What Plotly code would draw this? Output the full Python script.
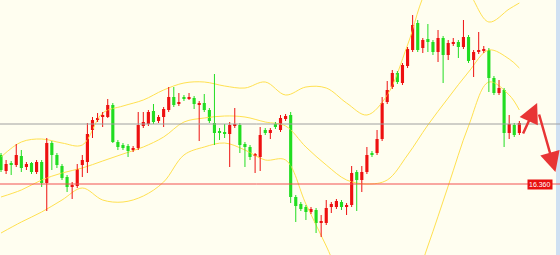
import plotly.graph_objects as go

# OHLC (price units)
opens = [16.65,16.49,16.57,16.55,16.64,16.53,16.57,16.48,16.58,16.37,
         16.77,16.65,16.54,16.43,16.33,16.34,16.55,16.58,16.90,17.00,
         17.03,17.03,17.15,16.78,16.75,16.74,16.70,16.72,16.94,16.96,
         17.09,16.99,17.03,17.10,17.23,17.16,17.22,17.21,17.22,17.15,
         17.17,17.10,16.97,16.88,16.87,16.86,16.94,16.95,16.76,16.73,
         16.64,16.63,16.90,16.87,16.96,16.90,17.01,17.05,16.23,16.16,
         16.13,16.08,16.10,15.97,15.97,16.13,16.13,16.18,16.13,16.15,
         16.48,16.40,16.48,16.67,16.67,16.81,17.18,17.33,17.47,17.37,
         17.54,17.70,17.97,17.72,17.81,17.78,17.68,17.82,17.65,17.76,
         17.78,17.73,17.83,17.60,17.68,17.69,17.70,17.42,17.27,17.30,
         16.87,16.95,16.87]
highs = [16.67,16.60,16.59,16.76,16.70,16.58,16.58,16.60,16.60,16.82,
         16.79,16.67,16.56,16.45,16.38,16.56,16.65,16.97,17.03,17.07,
         17.08,17.21,17.17,16.80,16.77,16.76,16.74,17.08,17.08,17.10,
         17.16,17.05,17.13,17.33,17.33,17.27,17.25,17.27,17.24,17.19,
         17.26,17.12,17.46,16.92,16.96,16.98,17.12,16.97,16.78,16.75,
         16.67,16.93,16.92,16.92,16.98,17.05,17.06,17.08,16.25,16.18,
         16.15,16.13,16.12,16.05,16.20,16.18,16.21,16.20,16.17,16.54,
         16.50,16.54,16.73,16.69,16.90,17.23,17.39,17.50,17.49,17.57,
         17.73,18.05,18.00,17.82,17.96,17.80,17.90,17.84,17.80,17.82,
         17.80,18.00,17.85,17.70,17.88,17.74,17.72,17.44,17.40,17.32,
         17.05,16.97,16.99]
lows = [16.48,16.46,16.45,16.53,16.48,16.50,16.46,16.46,16.33,16.09,
        16.50,16.52,16.40,16.28,16.21,16.32,16.43,16.47,16.82,16.98,
        16.93,17.02,16.77,16.70,16.70,16.63,16.68,16.70,16.92,16.94,
        16.96,16.97,16.93,17.08,17.13,17.14,17.19,17.20,17.11,16.79,
        17.08,16.97,16.75,16.80,16.82,16.53,16.92,16.67,16.53,16.60,
        16.47,16.49,16.85,16.81,16.91,16.88,16.99,16.17,15.98,16.09,
        16.00,16.06,15.87,15.83,15.95,16.07,16.11,16.10,16.05,16.13,
        16.09,16.28,16.46,16.63,16.65,16.79,17.16,17.31,17.36,17.35,
        17.52,17.68,17.68,17.67,17.68,17.65,17.58,17.37,17.60,17.74,
        17.62,17.71,17.57,17.43,17.66,17.67,17.28,17.25,17.25,16.73,
        16.81,16.83,16.85]
closes = [16.50,16.56,16.55,16.65,16.52,16.56,16.48,16.58,16.37,16.77,
          16.65,16.55,16.42,16.33,16.35,16.51,16.60,16.86,17.00,17.02,
          17.05,17.15,16.78,16.73,16.72,16.69,16.72,16.95,16.98,17.08,
          16.98,17.03,17.11,17.23,17.15,17.18,17.21,17.23,17.16,17.17,
          17.10,16.99,16.87,16.87,16.86,16.95,16.96,16.75,16.73,16.63,
          16.65,16.85,16.87,16.90,16.93,17.02,17.04,16.23,16.14,16.11,
          16.08,16.11,15.97,15.98,16.12,16.16,16.19,16.13,16.15,16.47,
          16.40,16.48,16.65,16.65,16.81,17.17,17.30,17.47,17.38,17.55,
          17.71,17.95,17.70,17.80,17.78,17.68,17.82,17.65,17.77,17.77,
          17.73,17.83,17.59,17.68,17.70,17.71,17.42,17.27,17.32,16.87,
          16.96,16.85,16.97]

band_idx = [0,4,8,12,16,20,24,28,32,36,40,44,48,52,56,60,64,68,72,76,80,84,88,92,96,100,102]
upper = [16.63,16.78,16.81,16.77,16.75,17.07,17.14,17.20,17.30,17.37,17.38,17.34,17.32,17.38,
         17.25,17.33,17.32,17.17,17.05,17.25,17.75,18.32,18.50,18.28,17.98,18.11,18.17]
middle = [16.23,16.30,16.40,16.47,16.52,16.59,16.66,16.73,16.83,16.98,17.02,17.04,17.03,16.98,
          16.94,16.73,16.55,16.40,16.36,16.40,16.65,16.95,17.22,17.48,17.70,17.61,17.52]
lower = [15.87,15.98,16.08,16.20,16.32,16.20,16.18,16.24,16.38,16.65,16.73,16.77,16.70,16.60,
         16.60,16.16,15.74,15.30,15.05,15.00,15.20,15.74,16.34,16.94,17.38,17.25,17.10]

grey_level = 16.96
support_level = 16.36
support_label = "16.360"

UP = "#ee1111"
DOWN = "#22dd22"

idx = list(range(len(opens)))
fig = go.Figure()

# bands
for band in (upper, middle, lower):
    fig.add_trace(go.Scatter(x=band_idx, y=band, mode="lines",
                             line=dict(color="#ffe150", width=1, shape="spline"),
                             hoverinfo="skip", showlegend=False))

# wicks
for up_flag, col in ((True, UP), (False, DOWN)):
    wx, wy = [], []
    for i in idx:
        if (closes[i] >= opens[i]) == up_flag:
            wx += [i, i, None]
            wy += [lows[i], highs[i], None]
    fig.add_trace(go.Scatter(x=wx, y=wy, mode="lines", line=dict(color=col, width=1),
                             hoverinfo="skip", showlegend=False))

# bodies
for up_flag, col in ((True, UP), (False, DOWN)):
    bx, bh, bb = [], [], []
    for i in idx:
        if (closes[i] >= opens[i]) == up_flag:
            bx.append(i)
            bb.append(min(opens[i], closes[i]))
            bh.append(max(abs(closes[i] - opens[i]), 0.015))
    fig.add_trace(go.Bar(x=bx, y=bh, base=bb, width=0.62, marker=dict(color=col, line=dict(width=0)),
                         hoverinfo="skip", showlegend=False))

fig.add_hline(y=grey_level, line=dict(color="#a0a0a0", width=1))
fig.add_hline(y=support_level, line=dict(color="#f25050", width=1))

fig.add_annotation(x=553/560, xref="paper", y=support_level, yref="y", text=support_label,
                   showarrow=False, xanchor="right", yanchor="middle",
                   font=dict(color="white", size=7, family="Arial"), bgcolor="#e81010", borderpad=1)

# right-edge blue strip
fig.add_shape(type="rect", xref="paper", yref="paper", x0=556/560, x1=1, y0=0, y1=1,
              fillcolor="#cfe0f2", line=dict(width=0), layer="below")

# arrows
fig.add_annotation(x=105.5, y=17.17, ax=102.6, ay=16.85, xref="x", yref="y", axref="x", ayref="y",
                   showarrow=True, arrowhead=2, arrowsize=1.6, arrowwidth=2.5, arrowcolor="#e83535", text="")
fig.add_annotation(x=109.1, y=16.48, ax=105.8, ay=17.07, xref="x", yref="y", axref="x", ayref="y",
                   showarrow=True, arrowhead=2, arrowsize=1.6, arrowwidth=2.5, arrowcolor="#e83535", text="")

fig.update_layout(width=560, height=255, margin=dict(l=0, r=0, t=0, b=0),
                  paper_bgcolor="#fffef0", plot_bgcolor="#fffef0", barmode="overlay",
                  showlegend=False)
fig.update_xaxes(range=[-0.2, 110.0], visible=False, showgrid=False, zeroline=False)
fig.update_yaxes(range=[15.65, 18.20], visible=False, showgrid=False, zeroline=False)

fig.write_html("out.html")
